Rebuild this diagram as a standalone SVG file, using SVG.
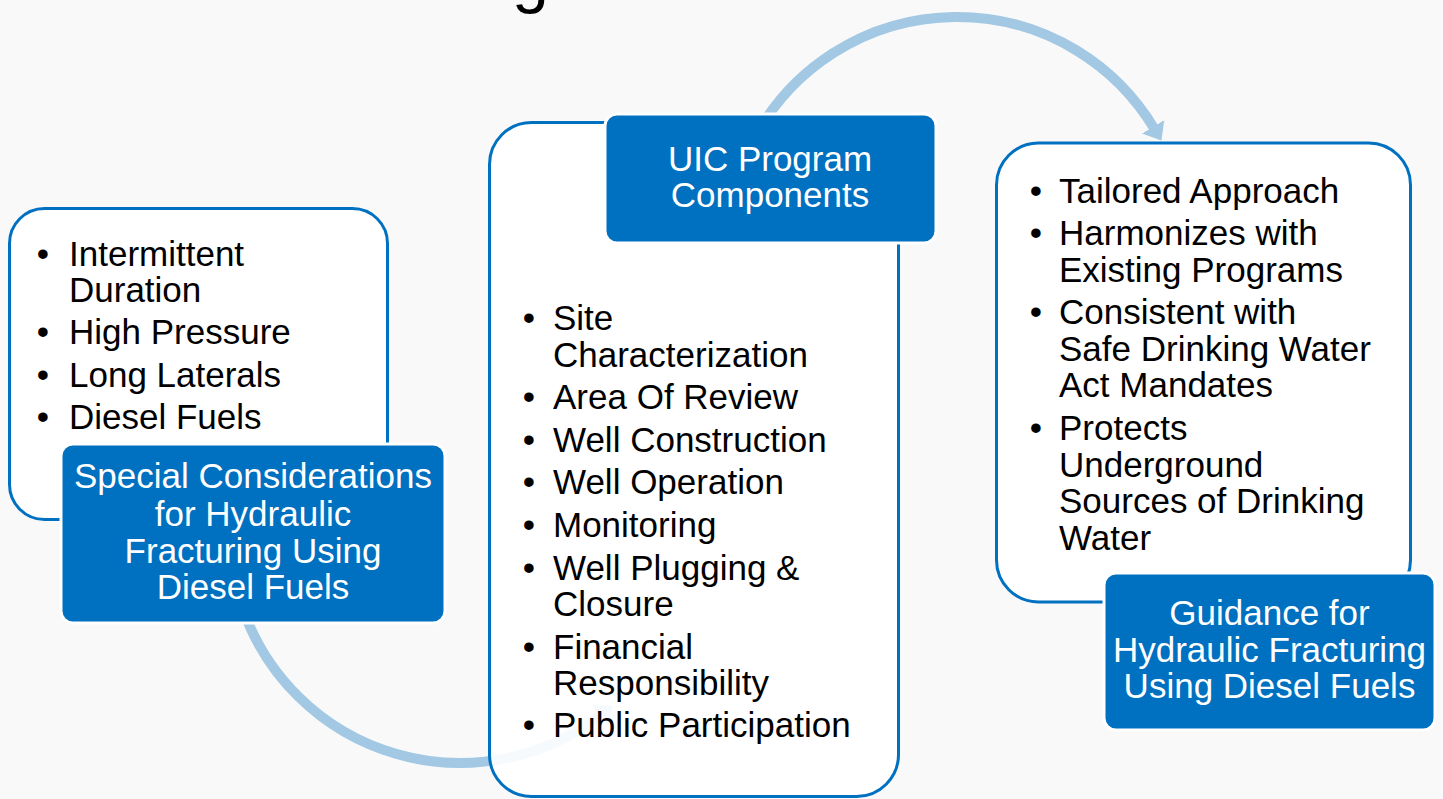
<svg xmlns="http://www.w3.org/2000/svg" width="1443" height="799" viewBox="0 0 1443 799">
  <style>
    text { font-family: "Liberation Sans", Arial, sans-serif; font-size: 35px; }
    .item { fill: #000000; }
    .bul { fill: #000000; text-anchor: middle; }
    .head { fill: #FFFFFF; text-anchor: middle; }
    .panel { fill: #FFFFFF; fill-opacity: 0.9; stroke: #0070C0; stroke-width: 3; }
    .label { fill: #0070C0; stroke: #FFFFFF; stroke-width: 3; }
    .arc { fill: none; stroke: #A2C8E4; stroke-width: 10; }
  </style>
  <defs>
    <marker id="ah" markerUnits="userSpaceOnUse" markerWidth="30" markerHeight="30" refX="2" refY="13" orient="auto">
      <path d="M0,0 L16,13 L0,26 Z" fill="#A2C8E4"/>
    </marker>
  </defs>
  <rect x="0" y="0" width="1443" height="799" fill="#F9F9F9"/>
  <text x="512" y="0" style="font-size:66px" fill="#000000">g</text>

  <g id="connectors">
    <path class="arc" d="M 757.8 132 A 230 230 0 0 1 1154.2 128.5" marker-end="url(#ah)"/>
    <path class="arc" d="M 243.9 611.7 A 230 230 0 0 0 601.6 714.2" marker-end="url(#ah)"/>
  </g>

  <g id="node-special">
    <rect class="panel" x="9.5" y="208.5" width="378" height="311" rx="35"/>
    <text class="bul" x="43" y="266">•</text>
    <text class="item" x="69" y="266">Intermittent</text>
    <text class="item" x="69" y="302">Duration</text>
    <text class="bul" x="43" y="344">•</text>
    <text class="item" x="69" y="344">High Pressure</text>
    <text class="bul" x="43" y="387">•</text>
    <text class="item" x="69" y="387">Long Laterals</text>
    <text class="bul" x="43" y="429">•</text>
    <text class="item" x="69" y="429">Diesel Fuels</text>
    <rect class="label" x="61" y="444" width="384" height="179" rx="12"/>
    <text class="head" x="253" y="488">Special Considerations</text>
    <text class="head" x="253" y="526">for Hydraulic</text>
    <text class="head" x="253" y="563">Fracturing Using</text>
    <text class="head" x="253" y="599">Diesel Fuels</text>
  </g>

  <g id="node-uic">
    <rect class="panel" x="489.5" y="122.5" width="409" height="674" rx="42"/>
    <rect class="label" x="605" y="114" width="331" height="129" rx="12"/>
    <text class="head" x="770" y="171">UIC Program</text>
    <text class="head" x="770" y="207">Components</text>
    <text class="bul" x="529" y="330">•</text>
    <text class="item" x="553" y="330">Site</text>
    <text class="item" x="553" y="367">Characterization</text>
    <text class="bul" x="529" y="409">•</text>
    <text class="item" x="553" y="409">Area Of Review</text>
    <text class="bul" x="529" y="452">•</text>
    <text class="item" x="553" y="452">Well Construction</text>
    <text class="bul" x="529" y="494">•</text>
    <text class="item" x="553" y="494">Well Operation</text>
    <text class="bul" x="529" y="537">•</text>
    <text class="item" x="553" y="537">Monitoring</text>
    <text class="bul" x="529" y="580">•</text>
    <text class="item" x="553" y="580">Well Plugging &amp;</text>
    <text class="item" x="553" y="616">Closure</text>
    <text class="bul" x="529" y="659">•</text>
    <text class="item" x="553" y="659">Financial</text>
    <text class="item" x="553" y="695">Responsibility</text>
    <text class="bul" x="529" y="737">•</text>
    <text class="item" x="553" y="737">Public Participation</text>
  </g>

  <g id="node-guidance">
    <rect class="panel" x="996.5" y="143" width="414" height="459" rx="42"/>
    <text class="bul" x="1036" y="203">•</text>
    <text class="item" x="1059" y="203">Tailored Approach</text>
    <text class="bul" x="1036" y="245">•</text>
    <text class="item" x="1059" y="245">Harmonizes with</text>
    <text class="item" x="1059" y="282">Existing Programs</text>
    <text class="bul" x="1036" y="324">•</text>
    <text class="item" x="1059" y="324">Consistent with</text>
    <text class="item" x="1059" y="361">Safe Drinking Water</text>
    <text class="item" x="1059" y="397">Act Mandates</text>
    <text class="bul" x="1036" y="440">•</text>
    <text class="item" x="1059" y="440">Protects</text>
    <text class="item" x="1059" y="477">Underground</text>
    <text class="item" x="1059" y="513">Sources of Drinking</text>
    <text class="item" x="1059" y="550">Water</text>
    <rect class="label" x="1104" y="573" width="331" height="157" rx="12"/>
    <text class="head" x="1269.5" y="625">Guidance for</text>
    <text class="head" x="1269.5" y="662">Hydraulic Fracturing</text>
    <text class="head" x="1269.5" y="698">Using Diesel Fuels</text>
  </g>
</svg>
